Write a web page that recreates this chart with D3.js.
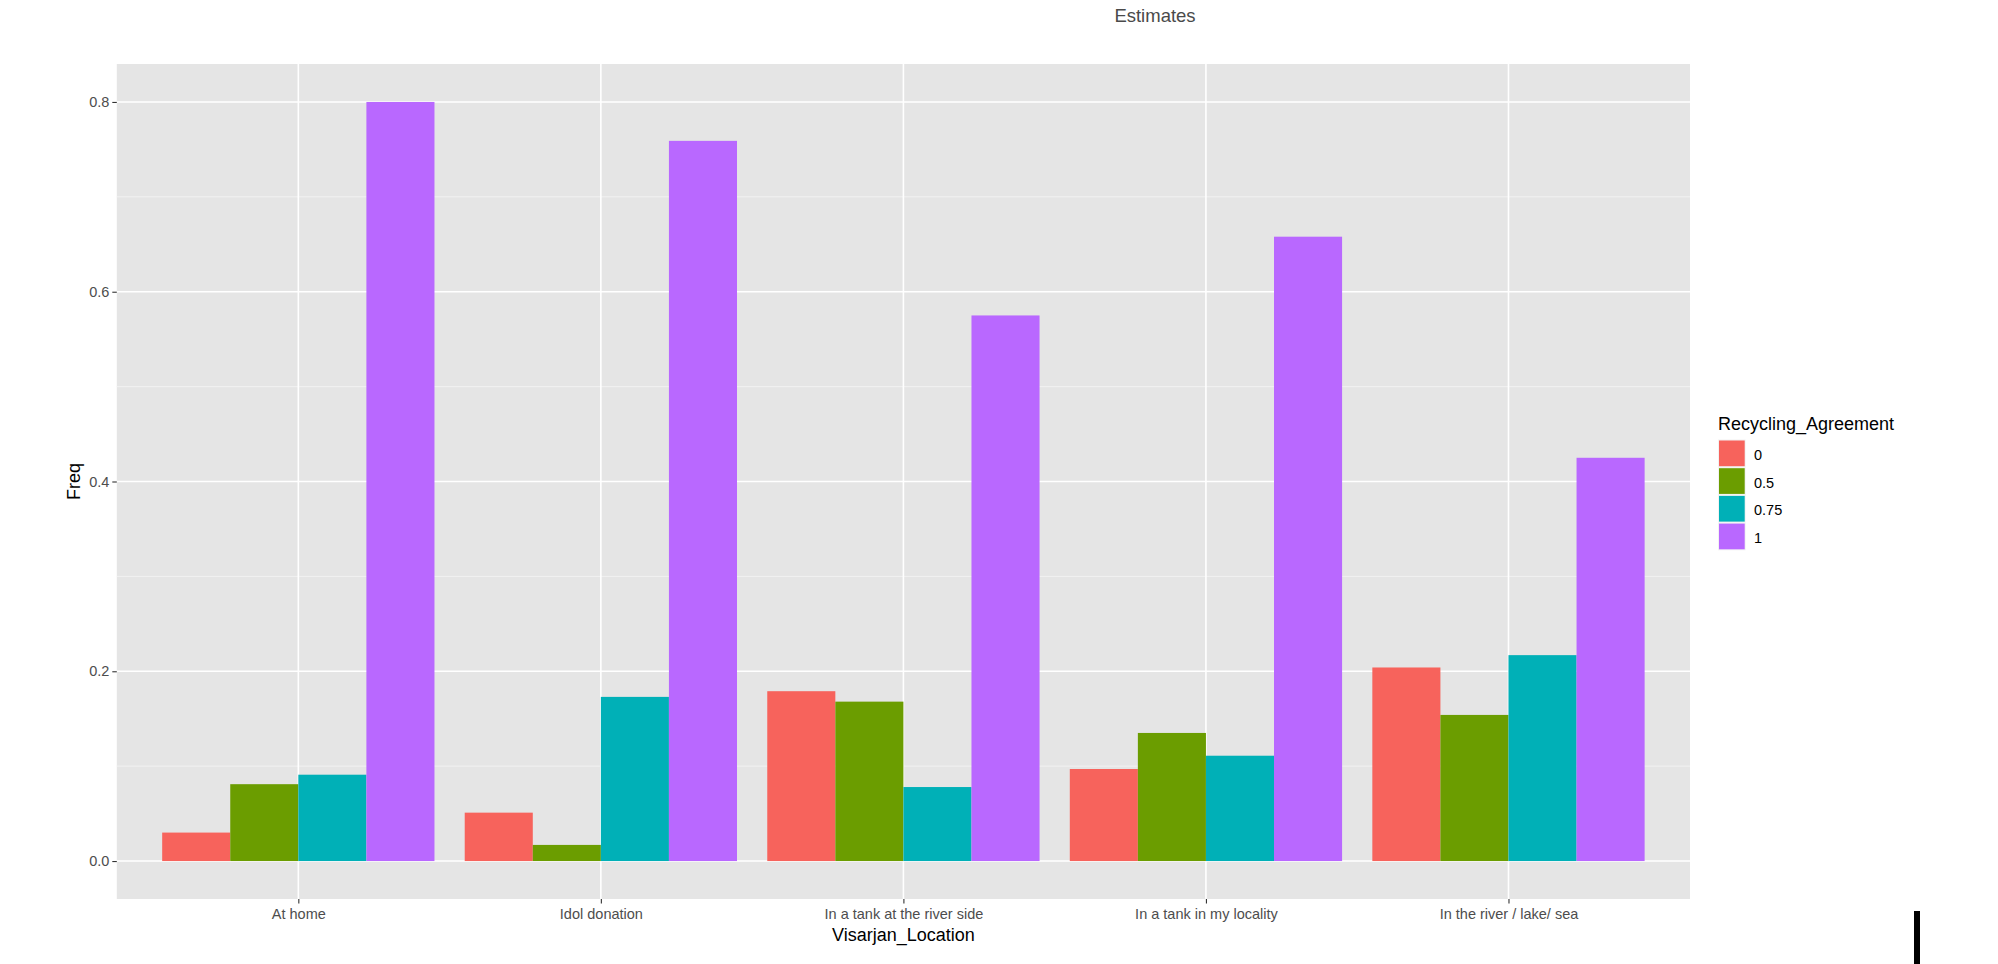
<!DOCTYPE html>
<html>
<head>
<meta charset="utf-8">
<script src="https://cdn.jsdelivr.net/npm/d3@7"></script>
<style>
  html, body { margin: 0; padding: 0; background: #fff; }
  svg { display: block; font-family: "Liberation Sans", Arial, sans-serif; }
</style>
</head>
<body>
<svg id="chart" width="1998" height="964"></svg>
<script>
// ---- data ----
const categories = ["At home", "Idol donation", "In a tank at the river side", "In a tank in my locality", "In the river / lake/ sea"];
const seriesKeys = ["0", "0.5", "0.75", "1"];
const freq0   = [0.030, 0.051, 0.179, 0.097, 0.204];
const freq05  = [0.081, 0.017, 0.168, 0.135, 0.154];
const freq075 = [0.091, 0.173, 0.078, 0.111, 0.217];
const freq1   = [0.800, 0.759, 0.575, 0.658, 0.425];
const yTicks = [0.0, 0.2, 0.4, 0.6, 0.8];
const yMinor = [0.1, 0.3, 0.5, 0.7];
const seriesColors = ["#F7635C", "#6B9D00", "#00B0B7", "#B968FF"];

const seriesValues = [freq0, freq05, freq075, freq1];

// ---- layout ----
const svg = d3.select("#chart");
const panel = { left: 116.8, right: 1690, top: 64, bottom: 899 };

const x = d3.scalePoint().domain(categories).range([panel.left, panel.right]).padding(0.6);
const step = x.step();
const xInner = d3.scaleBand().domain(seriesKeys).range([-0.45 * step, 0.45 * step]).padding(0);
const y = d3.scaleLinear().domain([-0.04, 0.84]).range([panel.bottom, panel.top]);
const color = d3.scaleOrdinal().domain(seriesKeys).range(seriesColors);

// panel background
svg.append("rect")
  .attr("x", panel.left).attr("y", panel.top)
  .attr("width", panel.right - panel.left).attr("height", panel.bottom - panel.top)
  .attr("fill", "#E5E5E5");

// minor gridlines
svg.append("g").selectAll("line").data(yMinor).join("line")
  .attr("x1", panel.left).attr("x2", panel.right)
  .attr("y1", d => y(d)).attr("y2", d => y(d))
  .attr("stroke", "#F5F5F5").attr("stroke-width", 0.8);

// major gridlines
svg.append("g").selectAll("line").data(yTicks).join("line")
  .attr("x1", panel.left).attr("x2", panel.right)
  .attr("y1", d => y(d)).attr("y2", d => y(d))
  .attr("stroke", "#FFFFFF").attr("stroke-width", 1.6);

svg.append("g").selectAll("line").data(categories).join("line")
  .attr("x1", d => x(d)).attr("x2", d => x(d))
  .attr("y1", panel.top).attr("y2", panel.bottom)
  .attr("stroke", "#FFFFFF").attr("stroke-width", 1.6);

// bars
const rows = [];
categories.forEach((c, i) => {
  seriesKeys.forEach((k, j) => rows.push({ cat: c, key: k, value: seriesValues[j][i] }));
});
svg.append("g").selectAll("rect").data(rows).join("rect")
  .attr("x", d => x(d.cat) + xInner(d.key))
  .attr("width", xInner.bandwidth())
  .attr("y", d => y(d.value))
  .attr("height", d => y(0) - y(d.value))
  .attr("fill", d => color(d.key));

// y axis
const yAxis = d3.axisLeft(y).tickValues(yTicks).tickFormat(d3.format(".1f")).tickSize(4.5).tickPadding(3);
const gy = svg.append("g").attr("transform", `translate(${panel.left},0)`).call(yAxis);
gy.select(".domain").remove();
gy.selectAll(".tick line").attr("stroke", "#333333").attr("stroke-width", 1.1);
gy.selectAll(".tick text").attr("fill", "#4D4D4D").style("font-size", "14.5px")
  .style("font-family", "'Liberation Sans', Arial, sans-serif");

// x axis
const xAxis = d3.axisBottom(x).tickSize(4.5).tickPadding(5);
const gx = svg.append("g").attr("transform", `translate(0,${panel.bottom})`).call(xAxis);
gx.select(".domain").remove();
gx.selectAll(".tick line").attr("stroke", "#333333").attr("stroke-width", 1.1);
gx.selectAll(".tick text").attr("fill", "#4D4D4D").style("font-size", "14.5px")
  .style("font-family", "'Liberation Sans', Arial, sans-serif");

// axis titles
svg.append("text")
  .attr("x", (panel.left + panel.right) / 2).attr("y", 941)
  .attr("text-anchor", "middle").attr("fill", "#000").style("font-size", "18px")
  .text("Visarjan_Location");

svg.append("text")
  .attr("transform", `translate(80,${(panel.top + panel.bottom) / 2}) rotate(-90)`)
  .attr("text-anchor", "middle").attr("fill", "#000").style("font-size", "18px")
  .text("Freq");

// title
svg.append("text")
  .attr("x", 1155).attr("y", 22)
  .attr("text-anchor", "middle").attr("fill", "#4A4A4A").style("font-size", "18.5px")
  .text("Estimates");

// legend
const lg = svg.append("g").attr("transform", "translate(1718,0)");
lg.append("text").attr("x", 0).attr("y", 430).attr("fill", "#000").style("font-size", "18px")
  .text("Recycling_Agreement");
const keyPitch = 27.7;
const items = lg.selectAll("g.item").data(seriesKeys).join("g").attr("class", "item")
  .attr("transform", (d, i) => `translate(0,${439.5 + i * keyPitch})`);
items.append("rect").attr("x", 0).attr("y", 0).attr("width", 27.7).attr("height", 27.7).attr("fill", "#F2F2F2");
items.append("rect").attr("x", 1).attr("y", 1).attr("width", 25.7).attr("height", 25.7).attr("fill", d => color(d));
items.append("text").attr("x", 36).attr("y", 15.5).attr("dy", "0.35em")
  .attr("fill", "#000").style("font-size", "14.5px").text(d => d);

// stray black mark at bottom right
svg.append("rect").attr("x", 1914).attr("y", 911).attr("width", 6).attr("height", 53).attr("fill", "#000");
</script>
</body>
</html>
